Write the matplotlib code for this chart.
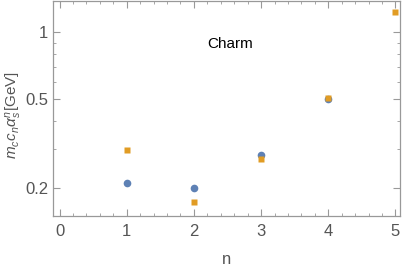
import numpy as np
import matplotlib
matplotlib.use("Agg")
import matplotlib.pyplot as plt
from matplotlib.ticker import LogLocator, FixedLocator, FixedFormatter, NullFormatter, MultipleLocator

n_blue = [1, 2, 3, 4]
val_blue = [0.21, 0.200, 0.280, 0.502]
n_orange = [1, 2, 3, 4, 5]
val_orange = [0.294, 0.173, 0.268, 0.507, 1.24]

blue = "#5E81B5"
orange = "#E19C24"
gray = "#999999"
textgray = "#555555"

plt.rcParams["font.family"] = ["Liberation Sans", "DejaVu Sans"]
plt.rcParams["mathtext.fontset"] = "custom"
plt.rcParams["mathtext.it"] = "Liberation Sans:italic"
plt.rcParams["mathtext.rm"] = "Liberation Sans"

fig = plt.figure(figsize=(4.07, 2.69), dpi=100)
ax = fig.add_axes([0.130, 0.197, 0.853, 0.801])

ax.plot(n_blue, val_blue, "o", color=blue, ms=5.5, mec="none")
ax.plot(n_orange, val_orange, "s", color=orange, ms=4.5, mec="none")

ax.set_yscale("log")
ax.set_xlim(-0.1, 5.07)
ax.set_ylim(0.149, 1.393)

ax.yaxis.set_major_locator(FixedLocator([0.2, 0.5, 1]))
ax.yaxis.set_major_formatter(FixedFormatter(["0.2", "0.5", "1"]))
ax.yaxis.set_minor_locator(LogLocator(base=10, subs=np.arange(1, 10) * 1.0))
ax.yaxis.set_minor_formatter(NullFormatter())
ax.xaxis.set_major_locator(MultipleLocator(1))
ax.xaxis.set_minor_locator(MultipleLocator(0.2))

for s in ax.spines.values():
    s.set_color(gray)
    s.set_linewidth(0.9)
ax.tick_params(which="both", direction="in", top=True, right=True, color=gray,
               labelcolor=textgray, labelsize=12)
ax.tick_params(which="major", length=5, width=0.8)
ax.tick_params(which="minor", length=2.5, width=0.6)
ax.tick_params(axis="x", pad=6)

ax.set_xlabel("n", color=textgray, fontsize=12, labelpad=9)
ax.set_ylabel(r"$m_c c_n \alpha_s^n$[GeV]", color=textgray, fontsize=11)
ax.yaxis.set_label_coords(-0.082, 0.47)
ax.text(0.51, 0.80, "Charm", transform=ax.transAxes, ha="center", va="center",
        fontsize=11, color="black")

fig.savefig("out.png", dpi=100)
